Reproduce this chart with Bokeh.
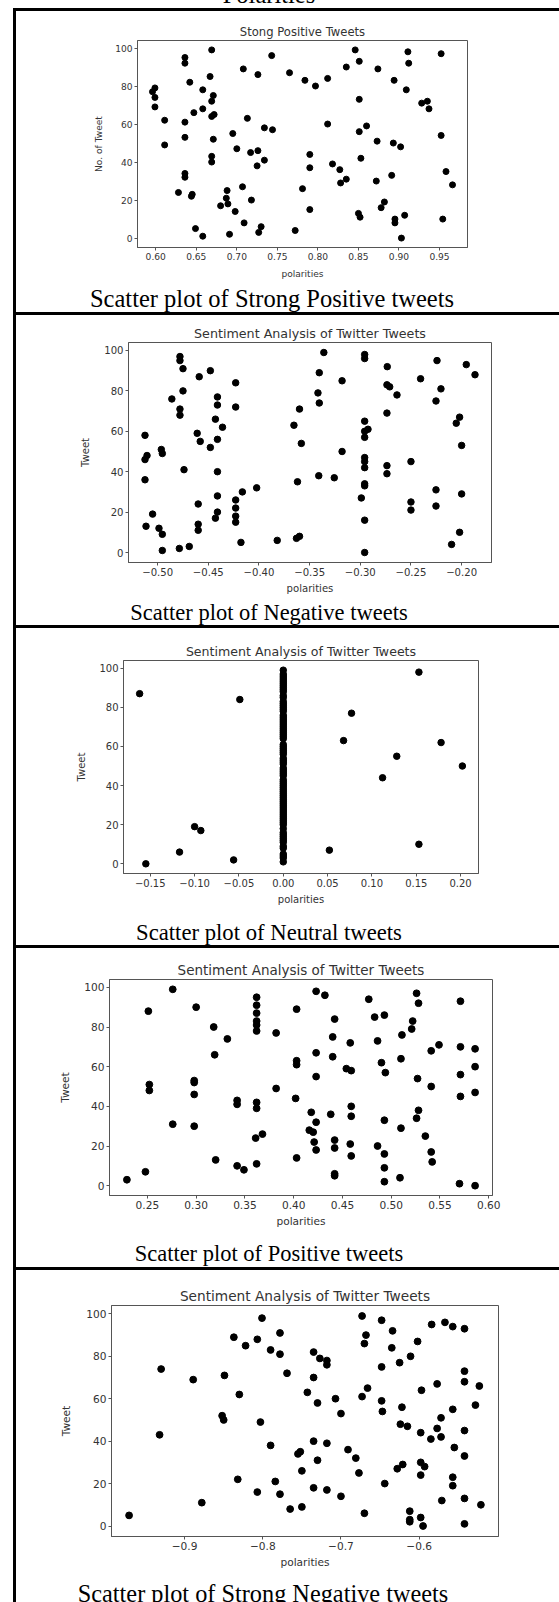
from bokeh.plotting import figure
from bokeh.layouts import row, column
from bokeh.models import Range1d, FixedTicker, Spacer, Div
from bokeh.embed import file_html
from bokeh.resources import INLINE

# ---------------- data ----------------
heading = "Polarities"
titles = ["Stong Positive Tweets", "Sentiment Analysis of Twitter Tweets",
          "Sentiment Analysis of Twitter Tweets", "Sentiment Analysis of Twitter Tweets",
          "Sentiment Analysis of Twitter Tweets"]
captions = ["Scatter plot of Strong Positive tweets", "Scatter plot of Negative tweets",
            "Scatter plot of Neutral tweets", "Scatter plot of Positive tweets",
            "Scatter plot of Strong Negative tweets"]
y_labels = ["No. of Tweet", "Tweet", "Tweet", "Tweet", "Tweet"]
x_label = "polarities"

y_ticks = [0, 20, 40, 60, 80, 100]

sp_ticks = [0.60, 0.65, 0.70, 0.75, 0.80, 0.85, 0.90, 0.95]
sp_tick_labels = ["0.60", "0.65", "0.70", "0.75", "0.80", "0.85", "0.90", "0.95"]
neg_ticks = [-0.50, -0.45, -0.40, -0.35, -0.30, -0.25, -0.20]
neg_tick_labels = ["\u22120.50", "\u22120.45", "\u22120.40", "\u22120.35", "\u22120.30", "\u22120.25", "\u22120.20"]
neu_ticks = [-0.15, -0.10, -0.05, 0.0, 0.05, 0.10, 0.15, 0.20]
neu_tick_labels = ["\u22120.15", "\u22120.10", "\u22120.05", "0.00", "0.05", "0.10", "0.15", "0.20"]
pos_ticks = [0.25, 0.30, 0.35, 0.40, 0.45, 0.50, 0.55, 0.60]
pos_tick_labels = ["0.25", "0.30", "0.35", "0.40", "0.45", "0.50", "0.55", "0.60"]
sn_ticks = [-0.9, -0.8, -0.7, -0.6]
sn_tick_labels = ["\u22120.9", "\u22120.8", "\u22120.7", "\u22120.6"]

sp_x = [0.669, 0.636, 0.636, 0.743, 0.708, 0.726, 0.846, 0.851, 0.835, 0.874,
        0.765, 0.667, 0.784, 0.812, 0.797, 0.642, 0.599, 0.658, 0.596, 0.599,
        0.671, 0.669, 0.851, 0.599, 0.647, 0.658, 0.669, 0.672, 0.611, 0.713,
        0.636, 0.812, 0.860, 0.734, 0.744, 0.851, 0.695, 0.636, 0.671, 0.873,
        0.611, 0.700, 0.717, 0.726, 0.790, 0.669, 0.669, 0.734, 0.853, 0.725,
        0.790, 0.818, 0.827, 0.636, 0.636, 0.828, 0.835, 0.872, 0.628, 0.707,
        0.781, 0.688, 0.645, 0.644, 0.687, 0.718, 0.689, 0.680, 0.698, 0.790,
        0.850, 0.852, 0.709, 0.649, 0.730, 0.727, 0.772, 0.658, 0.691,
        0.911, 0.912, 0.952, 0.894, 0.909, 0.928, 0.935, 0.937, 0.952, 0.893,
        0.902, 0.891, 0.958, 0.966, 0.882, 0.878, 0.907, 0.895, 0.895, 0.903, 0.954]
sp_y = [99, 95, 92, 96, 89, 86, 99, 93, 90, 89,
        87, 85, 83, 84, 80, 82, 79, 78, 77, 74,
        75, 72, 73, 69, 66, 68, 64, 65, 62, 63,
        61, 60, 59, 58, 57, 56, 55, 53, 52, 51,
        49, 47, 45, 46, 44, 43, 40, 41, 42, 38,
        37, 39, 36, 34, 32, 29, 31, 30, 24, 27,
        26, 25, 23, 22, 21, 20, 18, 17, 14, 15,
        13, 11, 8, 5, 6, 3, 4, 1, 2,
        98, 92, 97, 83, 78, 71, 72, 68, 54, 50,
        48, 33, 35, 28, 19, 16, 12, 10, 8, 0, 10]

neg_x = [-0.5125, -0.5125, -0.5105, -0.5125, -0.5115, -0.505, -0.4987, -0.4954, -0.4954, -0.4964,
         -0.4954, -0.486, -0.478, -0.478, -0.475, -0.475, -0.478, -0.478, -0.474, -0.4786,
         -0.4688, -0.459, -0.461, -0.458, -0.46, -0.46, -0.46, -0.448, -0.448, -0.441,
         -0.441, -0.443, -0.436, -0.441, -0.441, -0.441, -0.441, -0.443, -0.423, -0.423,
         -0.423, -0.423, -0.423, -0.423, -0.4164, -0.4178, -0.4023, -0.382,
         -0.336, -0.3405, -0.3418, -0.3405, -0.36, -0.3655, -0.3582, -0.362, -0.363, -0.36,
         -0.341, -0.3257, -0.318, -0.318, -0.2957, -0.2957, -0.2734, -0.2737, -0.271, -0.2638,
         -0.2737, -0.2957, -0.2924, -0.2957, -0.2957, -0.2957, -0.2957, -0.2957, -0.2737, -0.2737,
         -0.2957, -0.2957, -0.299, -0.2957, -0.2957, -0.25, -0.25, -0.25, -0.2405, -0.2243,
         -0.2204, -0.2253, -0.2253, -0.2253, -0.1954, -0.1868, -0.202, -0.2053, -0.2, -0.2,
         -0.202, -0.2099]
neg_y = [58, 46, 48, 36, 13, 19, 12, 9, 1, 51,
         49, 76, 97, 95, 91, 80, 71, 68, 41, 2,
         3, 87, 59, 55, 24, 14, 11, 90, 52, 77,
         73, 66, 62, 56, 40, 28, 20, 17, 84, 72,
         26, 22, 18, 15, 30, 5, 32, 6,
         99, 89, 79, 74, 71, 63, 54, 35, 7, 8,
         38, 37, 85, 50, 98, 96, 92, 83, 82, 78,
         69, 65, 61, 60, 57, 47, 45, 42, 43, 39,
         34, 33, 27, 16, 0, 45, 25, 21, 86, 95,
         81, 75, 31, 23, 93, 88, 67, 64, 53, 29,
         10, 4]

neu_x = [-0.162, -0.155, -0.117, -0.100, -0.093, -0.049, -0.056, 0.052, 0.068, 0.077,
         0.112, 0.153, 0.128, 0.178, 0.202, 0.153,
         0.0, 0.0, 0.0, 0.0, 0.0, 0.0, 0.0, 0.0, 0.0, 0.0, 0.0, 0.0, 0.0, 0.0,
         0.0, 0.0, 0.0, 0.0, 0.0, 0.0, 0.0, 0.0, 0.0, 0.0, 0.0, 0.0, 0.0, 0.0,
         0.0, 0.0, 0.0, 0.0, 0.0, 0.0, 0.0, 0.0, 0.0, 0.0, 0.0, 0.0, 0.0, 0.0,
         0.0, 0.0, 0.0, 0.0, 0.0, 0.0, 0.0, 0.0, 0.0, 0.0, 0.0, 0.0, 0.0, 0.0,
         0.0, 0.0, 0.0, 0.0, 0.0, 0.0, 0.0, 0.0, 0.0, 0.0, 0.0, 0.0, 0.0, 0.0,
         0.0, 0.0, 0.0, 0.0, 0.0, 0.0, 0.0, 0.0, 0.0, 0.0, 0.0, 0.0, 0.0, 0.0]
neu_y = [87, 0, 6, 19, 17, 84, 2, 7, 63, 77,
         44, 98, 55, 62, 50, 10,
         1, 3, 4, 5, 8, 9, 11, 12, 13, 14, 15, 16, 18, 20,
         21, 22, 23, 24, 25, 26, 27, 28, 29, 30, 31, 32, 33, 34,
         35, 36, 37, 38, 39, 40, 41, 42, 43, 45, 46, 47, 48, 49,
         51, 52, 53, 54, 56, 57, 58, 59, 60, 61, 64, 65, 66, 67,
         68, 69, 70, 71, 72, 73, 74, 75, 76, 78, 79, 80, 81, 82,
         83, 85, 86, 88, 89, 90, 91, 92, 93, 94, 95, 96, 97, 99]

pos_x = [0.229, 0.248, 0.251, 0.252, 0.252, 0.276, 0.276, 0.300, 0.298, 0.298,
         0.298, 0.298, 0.318, 0.319, 0.320, 0.332, 0.342, 0.342, 0.342, 0.349,
         0.362, 0.362, 0.362, 0.362, 0.362, 0.362, 0.362, 0.362, 0.361, 0.368,
         0.362, 0.382, 0.382, 0.403, 0.403, 0.403, 0.402, 0.403,
         0.423, 0.432, 0.442, 0.440, 0.423, 0.440, 0.458, 0.454, 0.459, 0.423,
         0.477, 0.483, 0.493, 0.486, 0.511, 0.522, 0.521, 0.526, 0.528, 0.510,
         0.490, 0.494, 0.541, 0.549, 0.527, 0.541, 0.571, 0.571, 0.586, 0.586,
         0.571, 0.571, 0.586, 0.418, 0.423, 0.416, 0.420, 0.421, 0.423, 0.438,
         0.442, 0.442, 0.442, 0.442, 0.459, 0.459, 0.458, 0.459, 0.486, 0.493,
         0.493, 0.493, 0.493, 0.510, 0.509, 0.528, 0.526, 0.535, 0.541, 0.542,
         0.570, 0.586]
pos_y = [3, 7, 88, 51, 48, 99, 31, 90, 53, 52,
         46, 30, 80, 66, 13, 74, 43, 41, 10, 8,
         95, 91, 87, 83, 81, 78, 42, 39, 24, 26,
         11, 77, 49, 89, 63, 61, 44, 14,
         98, 96, 84, 75, 67, 65, 72, 59, 58, 55,
         94, 85, 86, 73, 76, 83, 79, 97, 92, 64,
         62, 57, 68, 71, 54, 50, 70, 93, 69, 60,
         56, 45, 47, 37, 32, 28, 27, 22, 18, 36,
         23, 19, 6, 5, 40, 35, 21, 15, 20, 33,
         16, 9, 2, 29, 4, 38, 34, 25, 17, 12,
         1, 0]

sn_x = [-0.971, -0.932, -0.930, -0.889, -0.878, -0.849, -0.852, -0.850, -0.837, -0.830,
        -0.832, -0.822, -0.807, -0.801, -0.790, -0.778, -0.778, -0.803, -0.790, -0.807,
        -0.784, -0.778, -0.769, -0.765, -0.750, -0.755, -0.752, -0.750, -0.743, -0.735,
        -0.735, -0.735, -0.735, -0.727, -0.718, -0.718, -0.730, -0.730, -0.718, -0.718,
        -0.707, -0.700, -0.700, -0.691, -0.681, -0.677,
        -0.673, -0.668, -0.670, -0.673, -0.666, -0.670, -0.648, -0.634, -0.635, -0.648,
        -0.625, -0.611, -0.602, -0.648, -0.647, -0.622, -0.624, -0.615, -0.597, -0.598,
        -0.644, -0.628, -0.621, -0.598, -0.593, -0.598, -0.612, -0.612, -0.612, -0.598,
        -0.595, -0.584, -0.567, -0.557, -0.542, -0.542, -0.542, -0.577, -0.523, -0.528,
        -0.557, -0.572, -0.577, -0.572, -0.585, -0.542, -0.555, -0.542, -0.557, -0.557,
        -0.571, -0.542, -0.521, -0.542]
sn_y = [5, 43, 74, 69, 11, 71, 52, 50, 89, 62,
        22, 85, 88, 98, 83, 91, 81, 49, 38, 16,
        21, 15, 72, 8, 9, 34, 35, 26, 63, 82,
        70, 40, 18, 79, 78, 76, 58, 31, 39, 17,
        60, 53, 14, 36, 32, 25,
        99, 90, 86, 61, 65, 6, 97, 92, 84, 75,
        77, 80, 87, 59, 54, 56, 48, 47, 64, 44,
        20, 27, 29, 30, 28, 24, 7, 3, 2, 4,
        0, 95, 96, 94, 93, 73, 68, 67, 66, 57,
        55, 51, 46, 42, 41, 45, 37, 33, 23, 19,
        12, 13, 10, 1]

# ---------------- layout / style ----------------
# Bokeh's page template has no body margin, so the 8px page margin is added here.
PAGE_W, PAGE_H, MARGIN = 559, 1602, 8
W = 543                     # table column: page x 16..559
COL_H = PAGE_H - MARGIN     # 1594
AX = "#555555"
TXT = "#333333"
LB, RB = 90, 20             # identical side borders (a column aligns plot frames)
SERIF = "'Liberation Serif'"


def rule(w, h):
    return Div(text="", width=w, height=h, margin=0,
               styles={"background-color": "black"})


def text_block(text, w, h, center, size, top_px, clip):
    html = ('<div style="position:relative;top:%spx;width:%dpx;text-align:center;'
            'white-space:nowrap;font-family:%s;font-size:%spx;line-height:%spx;'
            'color:black">%s</div>' % (top_px, 2 * center, SERIF, size, size, text))
    styles = {"overflow": "hidden"} if clip else {"overflow": "visible"}
    return Div(text=html, width=w, height=h, margin=0, styles=styles)


def caption_block(text, h, baseline, center, size, clip=False):
    # baseline: distance of the text baseline from the block's top
    top_px = round(baseline - 0.8375 * size, 1)
    return text_block(text, W, h, center - 16, size, top_px, clip)


def panel(xs, ys, ticks, tick_labels, title, ylabel, dx, frame_w, height, top, bottom,
          title_size, tick_size, dot, title_standoff, ylab_standoff, xlab_standoff):
    xspan = max(xs) - min(xs)
    yspan = max(ys) - min(ys)
    xr = (min(xs) - 0.05 * xspan, max(xs) + 0.05 * xspan)
    yr = (min(ys) - 0.05 * yspan, max(ys) + 0.05 * yspan)
    p = figure(width=LB + frame_w + RB, height=height, output_backend="svg",
               toolbar_location=None,
               x_range=Range1d(*xr), y_range=Range1d(*yr),
               min_border_left=LB, min_border_right=RB,
               min_border_top=top, min_border_bottom=bottom)
    p.background_fill_color = "white"
    p.border_fill_color = "white"
    p.outline_line_color = AX
    p.outline_line_width = 1
    p.grid.visible = False

    p.title.text = title
    p.title.align = "center"
    p.title.text_font = "DejaVu Sans"
    p.title.text_font_size = "%spx" % title_size
    p.title.text_font_style = "normal"
    p.title.text_color = TXT
    p.title.standoff = title_standoff

    p.scatter(xs, ys, size=dot, fill_color="black", line_color="black", line_width=1)

    p.xaxis.ticker = FixedTicker(ticks=ticks, minor_ticks=[])
    p.xaxis.major_label_overrides = dict(zip(ticks, tick_labels))
    p.yaxis.ticker = FixedTicker(ticks=y_ticks, minor_ticks=[])
    p.xaxis.axis_label = x_label
    p.yaxis.axis_label = ylabel
    for ax in (p.xaxis, p.yaxis):
        ax.axis_line_color = AX
        ax.major_tick_line_color = AX
        ax.major_tick_out = 3
        ax.major_tick_in = 0
        ax.minor_tick_line_color = None
        ax.major_label_text_font = "DejaVu Sans"
        ax.major_label_text_font_size = "%spx" % tick_size
        ax.major_label_text_color = TXT
        ax.major_label_standoff = 2
        ax.axis_label_text_font = "DejaVu Sans"
        ax.axis_label_text_font_size = "%spx" % tick_size
        ax.axis_label_text_font_style = "normal"
        ax.axis_label_text_color = TXT
    p.xaxis.axis_label_standoff = xlab_standoff
    p.yaxis.axis_label_standoff = ylab_standoff
    return row(Spacer(width=dx, height=height), p)


r1 = panel(sp_x, sp_y, sp_ticks, sp_tick_labels, titles[0], y_labels[0],
           31, 330, 271, 29, 35, 11.6, 9.1, 6, 3, 8, 6)
r2 = panel(neg_x, neg_y, neg_ticks, neg_tick_labels, titles[1], y_labels[1],
           22, 363, 282, 27, 35, 12.7, 10.1, 6.5, 3, 10, 4)
r3 = panel(neu_x, neu_y, neu_ticks, neu_tick_labels, titles[2], y_labels[2],
           17, 355, 289, 32, 44, 12.6, 10, 6.5, 3, 9, 4)
r4 = panel(pos_x, pos_y, pos_ticks, pos_tick_labels, titles[3], y_labels[3],
           3, 383, 290, 31, 43, 13.5, 10.6, 6.8, 4, 10, 3)
r5 = panel(sn_x, sn_y, sn_ticks, sn_tick_labels, titles[4], y_labels[4],
           5, 387, 300, 35, 34, 13.7, 10.6, 6.8, 4, 11, 3)

c1 = caption_block(captions[0], 30, 25, 272, 24.5)
c2 = caption_block(captions[1], 28, 24, 269, 22.5)
c3 = caption_block(captions[2], 28, 24, 269, 22.7)
c4 = caption_block(captions[3], 29, 24, 269, 22.5)
c5 = caption_block(captions[4], 32, 32, 263, 24.3, clip=True)

# tail of the heading that sits above the table (only its lowest part is on the page)
head = text_block(heading, PAGE_W, MARGIN, 269, 24.5, round(3.5 - 0.8375 * 24.5, 1), True)

col = column(rule(W, 3), r1, c1, rule(W, 3), r2, c2, rule(W, 3), r3, c3,
             rule(W, 3), r4, c4, rule(W, 3), r5, c5)
body = row(Spacer(width=13, height=COL_H), rule(3, COL_H), col)
layout = column(head, body)

open("out.html", "w").write(file_html(layout, INLINE))
